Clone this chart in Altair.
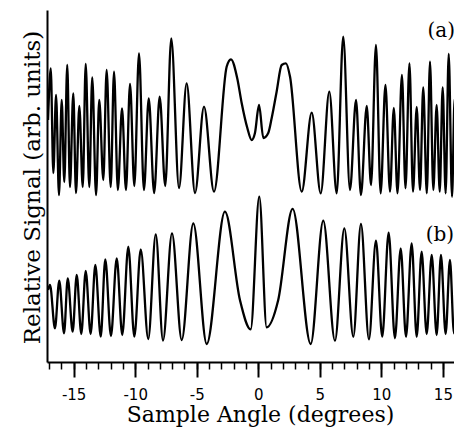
import altair as alt
import pandas as pd

# Trace (a): sample angle (degrees) and relative signal (arb. units), read at peaks/troughs
a_deg = [-17.08, -16.86, -16.65, -16.43, -16.19, -15.97, -15.76, -15.52, -15.30, -15.03,
         -14.81, -14.54, -14.26, -14.02, -13.73, -13.49, -13.18, -12.92, -12.59, -12.32,
         -11.99, -11.72, -11.41, -11.07, -10.75, -10.42, -10.07, -9.69, -9.29, -8.90,
         -8.46, -8.01, -7.56, -7.07, -6.44, -5.82, -5.14, -4.41, -3.60, -2.57,
         -2.22, -1.71, -1.35, -0.89, -0.54, -0.27, 0.06, 0.41, 0.81, 1.09,
         1.49, 1.90, 2.25, 2.58, 3.53, 4.34, 5.07, 5.77, 6.37, 6.90,
         7.45, 7.94, 8.34, 8.81, 9.16, 9.56, 9.94, 10.33, 10.70, 11.01,
         11.31, 11.67, 11.96, 12.28, 12.57, 12.87, 13.14, 13.40, 13.69, 13.95,
         14.22, 14.49, 14.74, 14.98, 15.22, 15.47, 15.74, 15.95, 16.18, 16.41,
         16.59]
a_sig = [242, 293.7, 189, 267, 167, 262, 180, 297, 175, 268.7,
         169, 256, 175, 298, 175, 284.7, 167, 262, 182, 292,
         175, 290.3, 172, 253.7, 172, 278, 176, 308.7, 172, 263.7,
         169, 265.3, 176, 323.7, 174, 278.7, 169, 255.3, 170.3, 295.3,
         302.7, 283.7, 259, 234, 222, 229, 257, 224, 229, 244,
         270.3, 297, 298.7, 285.3, 170.3, 249.3, 168.7, 270.3, 168.7, 325.3,
         172, 262, 167, 256, 177, 317, 168.7, 277, 170.3, 254,
         168.7, 287, 173.7, 298.7, 170.3, 255, 172, 274.5, 168.7, 300.3,
         172, 257, 170.3, 274.5, 168.7, 308, 165.3, 263, 170.3, 270,
         182]

# Trace (b)
b_deg = [-17.08, -16.92, -16.52, -16.17, -15.78, -15.48, -15.08, -14.75, -14.38, -14.02,
         -13.62, -13.24, -12.80, -12.43, -11.97, -11.50, -11.05, -10.56, -10.07, -9.55,
         -8.94, -8.33, -7.74, -7.01, -6.22, -5.28, -4.19, -2.71, -1.49, -0.62,
         0.08, 0.68, 1.62, 2.79, 4.26, 5.28, 6.23, 6.99, 7.72, 8.34,
         8.99, 9.56, 10.07, 10.59, 11.10, 11.57, 12.00, 12.46, 12.87, 13.27,
         13.68, 14.09, 14.49, 14.84, 15.22, 15.57, 15.90, 16.25, 16.52]
b_sig = [72, 77, 33.7, 81.3, 28.7, 83.7, 30.3, 87, 28, 91,
         28, 97, 25.3, 102.7, 26, 103.7, 27, 115.3, 25.3, 112.7,
         23, 127.7, 21.5, 128.7, 22, 138.7, 18, 150.3, 62, 32.7,
         165.3, 34.7, 62, 153.2, 18, 141.3, 21.3, 133.7, 25.3, 138,
         22.7, 121.3, 25.3, 129.3, 23.7, 113.7, 25.3, 118.7, 25.3, 110.3,
         28, 107, 27, 107, 28, 102, 28.7, 100.3, 30.3]

label_text = ["(a)", "(b)"]
label_deg = [13.75, 13.6]
label_sig = [325, 121]

major_ticks = [-15, -10, -5, 0, 5, 10, 15]
minor_ticks = list(range(-17, 16))

df = pd.concat([
    pd.DataFrame({"angle": a_deg, "signal": a_sig, "trace": "a"}),
    pd.DataFrame({"angle": b_deg, "signal": b_sig, "trace": "b"}),
])
labels_df = pd.DataFrame({"angle": label_deg, "signal": label_sig, "label": label_text})

xscale = alt.Scale(domain=[-17.165, 15.90], nice=False, zero=False)
yscale = alt.Scale(domain=[0, 352], nice=False, zero=False)

major_axis = alt.Axis(
    values=major_ticks, orient="bottom", grid=False,
    tickSize=15, tickWidth=2, tickColor="black",
    domainColor="black", domainWidth=2,
    labelFont="DejaVu Sans", labelFontSize=15, labelColor="black",
    labelPadding=10, labelExpr="'' + datum.value", labelFlush=False,
    title="Sample Angle (degrees)", titleFont="DejaVu Serif", titleFontSize=22,
    titleFontWeight="normal", titleColor="black",
    titleX=213, titleY=59, titleAlign="center", titleBaseline="alphabetic",
)
minor_axis = alt.Axis(
    values=minor_ticks, orient="bottom", grid=False,
    tickSize=7, tickWidth=1.5, tickColor="black",
    labels=False, domain=False, title="",
)
y_axis = alt.Axis(
    ticks=False, labels=False, grid=False,
    domainColor="black", domainWidth=2,
    title="Relative Signal (arb. units)", titleFont="DejaVu Serif", titleFontSize=23,
    titleFontWeight="normal", titleColor="black",
    titleX=-8, titleY=177, titleAngle=270, titleAlign="center", titleBaseline="alphabetic",
)

lines = alt.Chart(df).mark_line(
    color="black", strokeWidth=2.3, interpolate="monotone", clip=True
).encode(
    x=alt.X("angle:Q", scale=xscale, axis=minor_axis),
    y=alt.Y("signal:Q", scale=yscale, axis=y_axis),
    detail="trace:N",
)

texts = alt.Chart(labels_df).mark_text(
    align="left", baseline="alphabetic", font="DejaVu Serif", fontSize=20, color="black"
).encode(
    x=alt.X("angle:Q", scale=xscale, axis=major_axis),
    y=alt.Y("signal:Q", scale=yscale),
    text="label:N",
)

chart = alt.layer(lines, texts).resolve_axis(x="independent").properties(
    width=407, height=352,
    padding={"left": 39, "top": 2, "right": 0, "bottom": 66},
    autosize=alt.AutoSizeParams(type="none"),
    background="white",
).configure_view(stroke=None)

chart.save("out.html", embed_options={"renderer": "svg", "actions": False})
